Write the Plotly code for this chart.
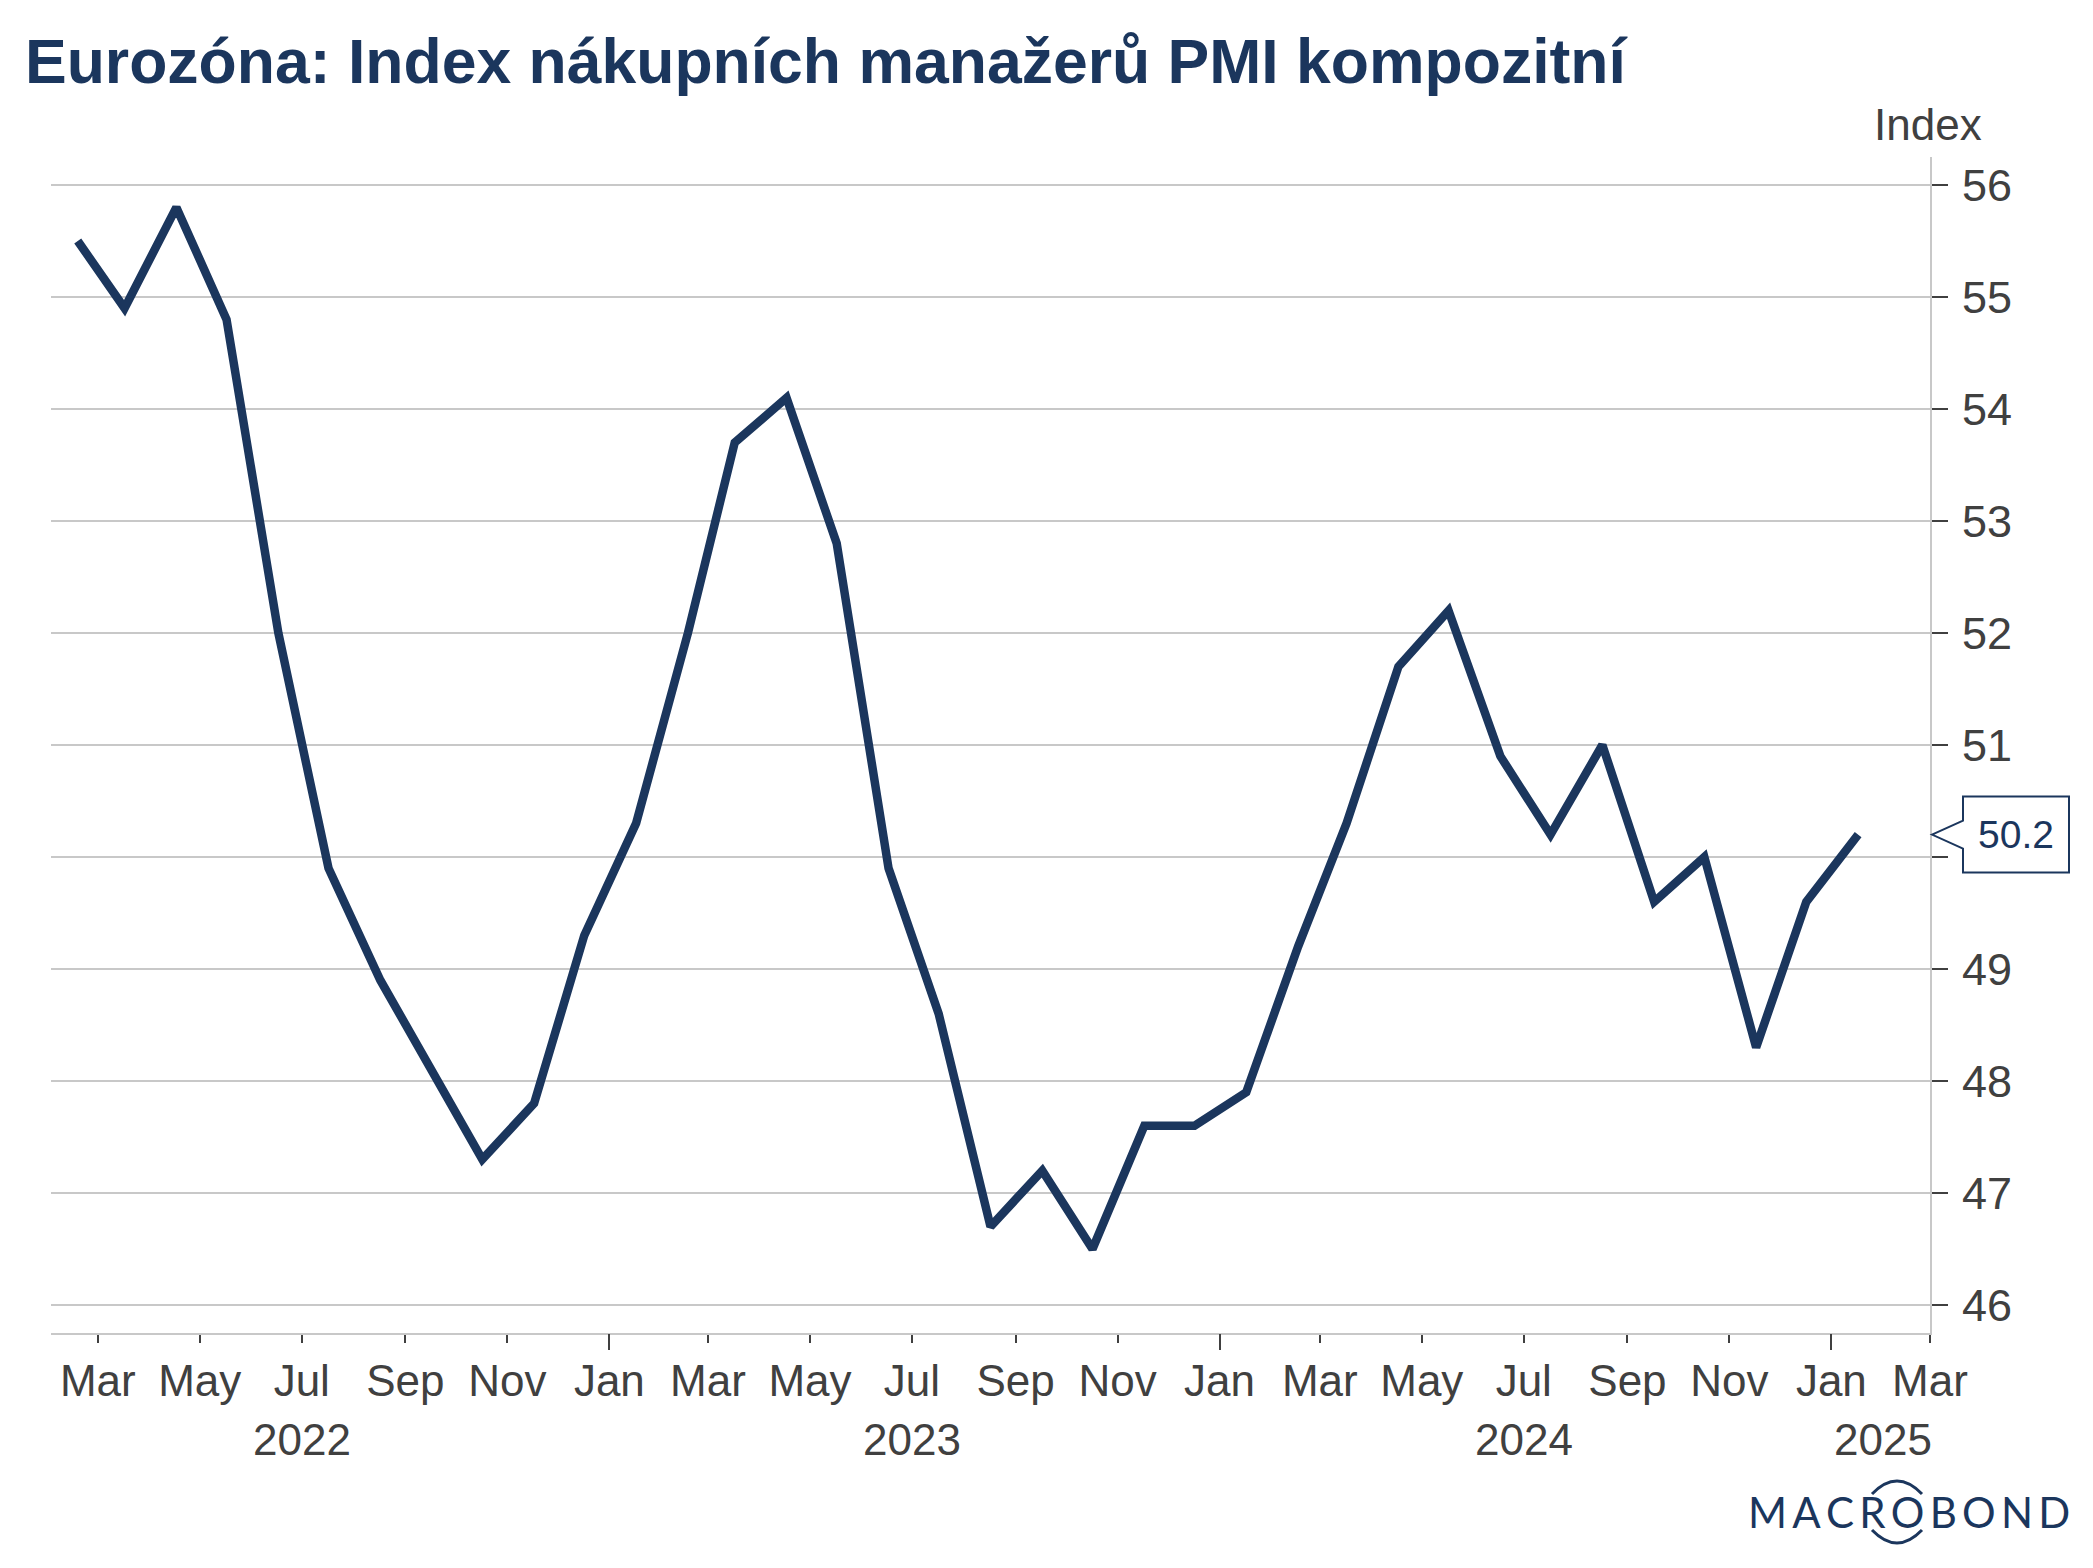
import plotly.graph_objects as go
import pandas as pd

# ---- data ----
months = [
    "2022-02", "2022-03", "2022-04", "2022-05", "2022-06", "2022-07",
    "2022-08", "2022-09", "2022-10", "2022-11", "2022-12", "2023-01",
    "2023-02", "2023-03", "2023-04", "2023-05", "2023-06", "2023-07",
    "2023-08", "2023-09", "2023-10", "2023-11", "2023-12", "2024-01",
    "2024-02", "2024-03", "2024-04", "2024-05", "2024-06", "2024-07",
    "2024-08", "2024-09", "2024-10", "2024-11", "2024-12", "2025-01",
]
pmi = [
    55.5, 54.9, 55.8, 54.8, 52.0, 49.9,
    48.9, 48.1, 47.3, 47.8, 49.3, 50.3,
    52.0, 53.7, 54.1, 52.8, 49.9, 48.6,
    46.7, 47.2, 46.5, 47.6, 47.6, 47.9,
    49.2, 50.3, 51.7, 52.2, 50.9, 50.2,
    51.0, 49.6, 50.0, 48.3, 49.6, 50.2,
]
year_labels = ["2022", "2023", "2024", "2025"]
year_label_pos = ["2022-07-01", "2023-07-01", "2024-07-01", "2025-02-01"]
y_ticks = [46, 47, 48, 49, 50, 51, 52, 53, 54, 55, 56]
# the "50" label is hidden behind the last-value callout in the reference
y_ticktext = ["46", "47", "48", "49", "", "51", "52", "53", "54", "55", "56"]

title_text = "Eurozóna: Index nákupních manažerů PMI kompozitní"
unit_text = "Index"

NAVY = "#1b365d"
TXT = "#404040"
GRID = "#c8c8c8"
FONT = "Liberation Sans"

dates = pd.to_datetime(months) + pd.Timedelta(days=16)

fig = go.Figure()
fig.add_trace(go.Scatter(
    x=dates, y=pmi, mode="lines",
    line=dict(color=NAVY, width=8.5),
    hoverinfo="skip", xaxis="x", yaxis="y",
))
# invisible trace on overlay axis carrying the long January ticks
fig.add_trace(go.Scatter(
    x=dates, y=pmi, mode="lines", line=dict(color="rgba(0,0,0,0)", width=0),
    hoverinfo="skip", xaxis="x2", yaxis="y", showlegend=False,
))

xr = ["2022-02-01", "2025-03-01"]

fig.update_layout(
    width=2093, height=1568,
    margin=dict(l=43, r=171, t=149, b=243),
    paper_bgcolor="white", plot_bgcolor="white",
    showlegend=False,
    font=dict(family=FONT, color=TXT),
    title=dict(
        text="<b>" + title_text + "</b>",
        font=dict(family=FONT, size=62.5, color=NAVY),
        xref="container", x=17 / 2093, xanchor="left",
        yref="container", y=1 - 53 / 1568, yanchor="middle",
    ),
    xaxis=dict(
        type="date", range=xr,
        tick0="2022-01-01", dtick="M2", tickformat="%b",
        ticks="outside", ticklen=8, tickwidth=2, tickcolor=TXT,
        showline=True, linecolor=GRID, linewidth=2,
        showgrid=False, zeroline=False,
        tickfont=dict(family=FONT, size=44, color=TXT),
        ticklabelstandoff=0,
    ),
    xaxis2=dict(
        type="date", range=xr, overlaying="x", anchor="y", side="bottom",
        tick0="2022-01-01", dtick="M12",
        ticks="outside", ticklen=16, tickwidth=2, tickcolor=TXT,
        showticklabels=False, showline=False, showgrid=False, zeroline=False,
    ),
    yaxis=dict(
        side="right", range=[45.75, 56.25],
        tickvals=y_ticks, ticktext=y_ticktext,
        ticks="outside", ticklen=16, tickwidth=2, tickcolor=TXT,
        showline=True, linecolor=GRID, linewidth=2,
        showgrid=True, gridcolor=GRID, gridwidth=2, zeroline=False,
        tickfont=dict(family=FONT, size=45, color=TXT),
        ticklabelstandoff=5,
    ),
)

annotations = []
# unit label above the right axis
annotations.append(dict(
    text=unit_text, xref="paper", yref="paper", x=1, y=1,
    xanchor="center", yanchor="middle", xshift=-2, yshift=33,
    showarrow=False, font=dict(family=FONT, size=44, color=TXT),
))
# year labels
for lab, pos in zip(year_labels, year_label_pos):
    annotations.append(dict(
        text=lab, xref="x", yref="paper", x=pos, y=0,
        xanchor="center", yanchor="middle", yshift=-106,
        showarrow=False, font=dict(family=FONT, size=44, color=TXT),
    ))
# last value callout text
annotations.append(dict(
    text=f"{pmi[-1]:.1f}", xref="paper", yref="y", x=1, y=pmi[-1],
    xanchor="center", yanchor="middle", xshift=86,
    showarrow=False, font=dict(family=FONT, size=39, color=NAVY),
))
# logo
annotations.append(dict(
    text="M\u2009A\u2009C\u2009R\u2009O\u2009B\u2009O\u2009N\u2009D",
    xref="paper", yref="paper", x=1, y=0,
    xanchor="center", yanchor="middle", xshift=-21, yshift=-179,
    showarrow=False, font=dict(family="Lato", size=42, color=NAVY),
))
fig.update_layout(annotations=annotations)

shapes = []
# callout box with pointer
shapes.append(dict(
    type="path", xref="paper", yref="y",
    xsizemode="pixel", ysizemode="pixel", xanchor=1, yanchor=pmi[-1],
    path="M 2,0 L 33,14 L 33,38 L 139,38 L 139,-38 L 33,-38 L 33,-14 Z",
    fillcolor="white", line=dict(color=NAVY, width=2), layer="above",
))
# logo arcs around the O
shapes.append(dict(
    type="path", xref="paper", yref="paper",
    xsizemode="pixel", ysizemode="pixel", xanchor=1, yanchor=0,
    path="M -58,-161 Q -33,-135 -8,-161",
    line=dict(color=NAVY, width=3), layer="above",
))
shapes.append(dict(
    type="path", xref="paper", yref="paper",
    xsizemode="pixel", ysizemode="pixel", xanchor=1, yanchor=0,
    path="M -58,-197 Q -33,-223 -8,-197",
    line=dict(color=NAVY, width=3), layer="above",
))
fig.update_layout(shapes=shapes)

fig.write_html("out.html")
